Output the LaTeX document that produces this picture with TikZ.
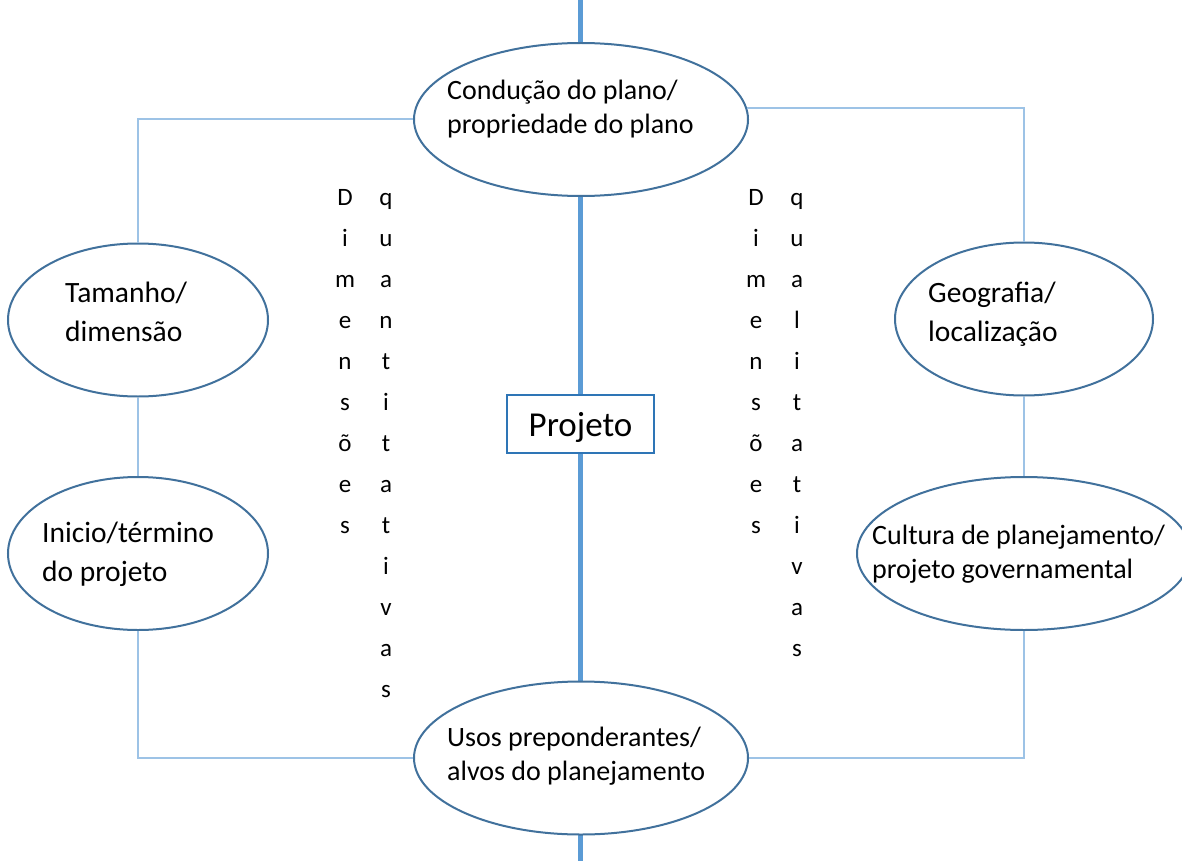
\documentclass[tikz,border=0pt]{standalone}
\usepackage{fontspec}
\setmainfont{Carlito}
\usetikzlibrary{shapes.geometric,positioning}
\definecolor{spineblue}{HTML}{5B9BD5}
\definecolor{linkblue}{HTML}{9DC3E6}
\definecolor{rimblue}{HTML}{41719C}
\definecolor{boxblue}{HTML}{2E75B6}

\begin{document}
\begin{tikzpicture}[x=1pt, y=-1pt,
    bubble/.style={ellipse, draw=rimblue, line width=2pt, fill=white,
      inner sep=0, minimum height=153, minimum width=#1},
    bubble/.default=260,
    bubbletext/.style={anchor=west, align=left, inner sep=0,
      font=\fontsize{28}{34}\selectfont},
    bigtext/.style={bubbletext, font=\fontsize{29.5}{39}\selectfont},
    letter/.style={anchor=base, inner sep=0,
      font=\fontsize{25}{30}\selectfont},
    link/.style={draw=linkblue, line width=2pt},
    spine/.style={draw=spineblue, line width=5pt}]
  \useasboundingbox (0,0) rectangle (1182,861);

  % central axis
  \coordinate (axisTop) at (580,0);
  \coordinate (axisBot) at (580,861);
  \draw[spine] (axisTop) -- (axisBot);

  % ellipses
  \node[bubble=334] (condE) at (581,119.5) {};
  \node[bubble=334] (usosE) at (581,758) {};
  \node[bubble] (tamE) at (138,320) {};
  \node[bubble] (iniE) at (138,553.5) {};
  \node[bubble=258] (geoE) at (1024,319) {};
  \node[bubble=334] (culE) at (1024,553.5) {};

  % thin links
  \draw[link] (condE.west) -| (tamE.north);
  \draw[link] (tamE.south) -- (iniE.north);
  \draw[link] (iniE.south) |- (usosE.west);
  \draw[link] (condE.4) -| (geoE.north);
  \draw[link] (geoE.south) -- (culE.north);
  \draw[link] (culE.south) |- (usosE.east);

  % texts
  \node[bubbletext] (condT) at (447,109.5) {Condução do plano/\\propriedade do plano};
  \node[bubbletext] (usosT) at (447,756.5) {Usos preponderantes/\\alvos do planejamento};
  \node[bubbletext] (culT) at (872,554) {Cultura de planejamento/\\projeto governamental};
  \node[bigtext] (tamT) at (65,311.5) {Tamanho/\\dimensão};
  \node[bigtext] (iniT) at (42,554.5) {Inicio/término\\do projeto};
  \node[bigtext] (geoT) at (928,314.5) {Geografia/\\localização};

  \node[draw=boxblue, line width=1.5pt, fill=white, minimum width=147,
    minimum height=58, inner sep=0, text height=24, text depth=0,
    font=\fontsize{35}{40}\selectfont] (proj) at (580.5,424) {Projeto};

  % vertical words
  \foreach \ch [count=\i from 0] in {D,i,m,e,n,s,õ,e,s}
    \node[letter] (dimL\i) at (345,{205+41*\i}) {\ch};
  \foreach \ch [count=\i from 0] in {q,u,a,n,t,i,t,a,t,i,v,a,s}
    \node[letter] (quanL\i) at (386,{205+41*\i}) {\ch};
  \foreach \ch [count=\i from 0] in {D,i,m,e,n,s,õ,e,s}
    \node[letter] (dimR\i) at (756,{205+41*\i}) {\ch};
  \foreach \ch [count=\i from 0] in {q,u,a,l,i,t,a,t,i,v,a,s}
    \node[letter] (qualR\i) at (797,{205+41*\i}) {\ch};
\end{tikzpicture}
\end{document}
